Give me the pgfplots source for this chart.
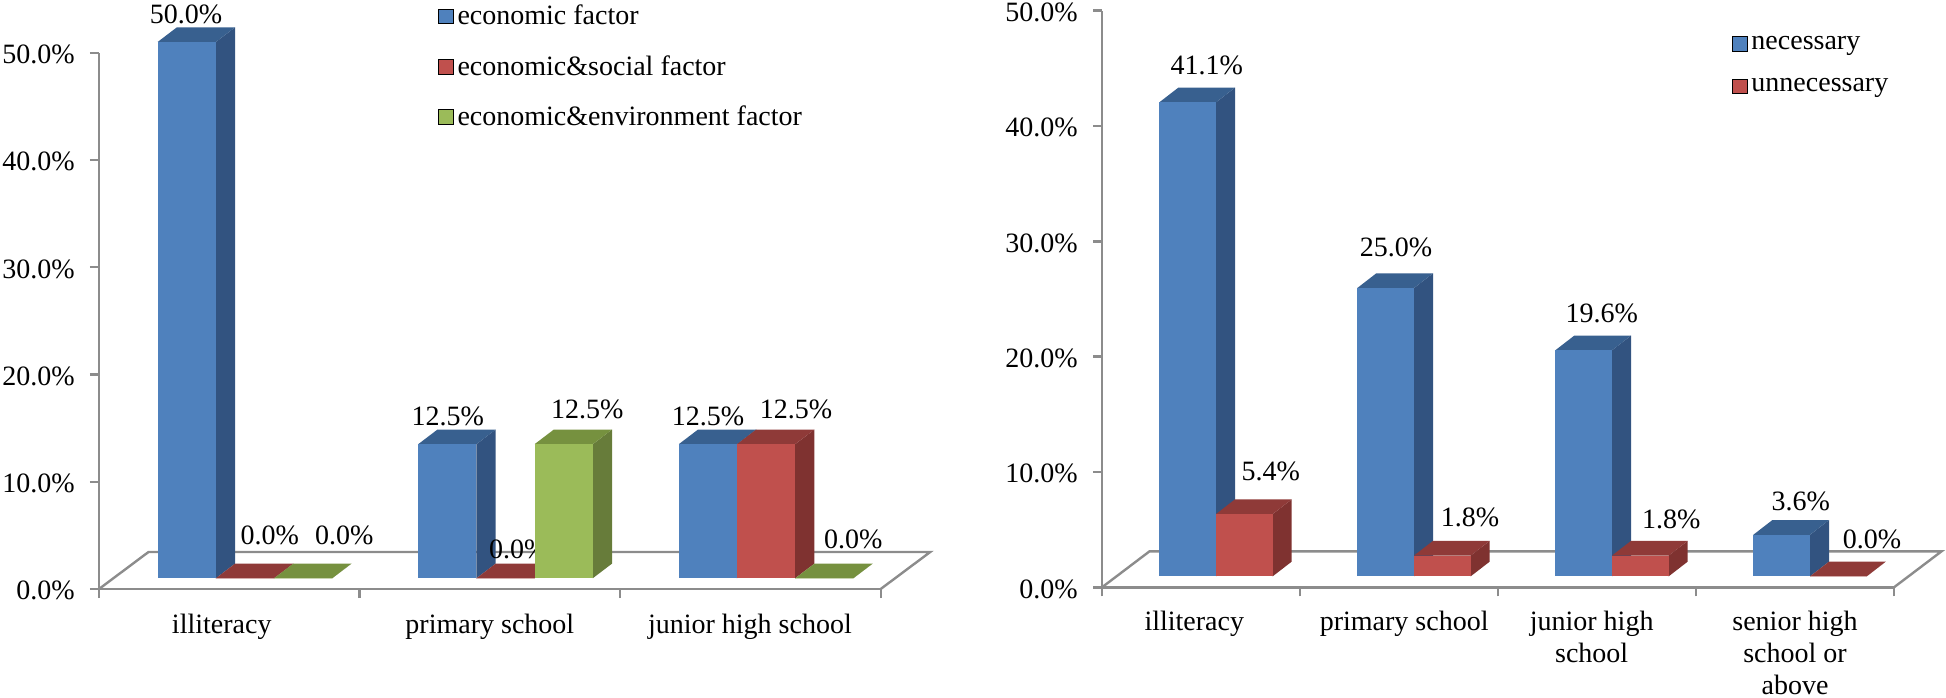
\documentclass[border=0pt]{standalone}
\usepackage{pgfplots}
\pgfplotsset{compat=1.18}
\usepackage{fontspec}
\setmainfont{Liberation Serif}

\definecolor{bluefront}{HTML}{4F81BD}
\definecolor{blueside}{HTML}{325380}
\definecolor{bluetop}{HTML}{38608F}
\definecolor{redfront}{HTML}{C0504D}
\definecolor{redside}{HTML}{7F3230}
\definecolor{redtop}{HTML}{8F3A38}
\definecolor{greenfront}{HTML}{9BBB59}
\definecolor{greenside}{HTML}{677C3A}
\definecolor{greentop}{HTML}{76913F}
\definecolor{axisgray}{HTML}{8C8C8C}

% one box: group, position in group, colour, value, label shift (reference pixels)
\newcommand{\threedbar}[6]{%
  \pgfmathsetmacro\xa{#1+\xstart+#2*\bw}%
  \pgfmathsetmacro\xb{\xa+\bw}%
  \pgfmathsetmacro\xc{\xb+\dX}%
  \pgfmathsetmacro\xd{\xa+\dX}%
  \pgfmathsetmacro\yb{\base+#4}%
  \pgfmathsetmacro\yc{\base+\dY}%
  \pgfmathsetmacro\yd{\yb+\dY}%
  \pgfmathsetmacro\xm{\xa+0.5*\bw}%
  \addplot[fill=#3side,draw=none,forget plot] coordinates {(\xb,\base) (\xc,\yc) (\xc,\yd) (\xb,\yb)} --cycle;
  \addplot[fill=#3top,draw=none,forget plot] coordinates {(\xa,\yb) (\xb,\yb) (\xc,\yd) (\xd,\yd)} --cycle;
  \addplot[fill=#3front,draw=none,forget plot] coordinates {(\xa,\base) (\xb,\base) (\xb,\yb) (\xa,\yb)} --cycle;
  \edef\temp{\noexpand\node[vallabel,xshift=#5*0.5pt,yshift=#6*0.5pt] at (axis cs:\xm,\yb) {#4\noexpand\%};}\temp
}

\pgfplotsset{
  threed/.style={
    scale only axis,
    clip=false,
    enlargelimits=false,
    axis lines=left,
    axis line style={-,axisgray,line width=1.2pt},
    tick style={axisgray,line width=1.2pt},
    tick align=outside,
    major tick length=4.5pt,
    ymin=0, ymax=50,
    ytick={0,10,...,50},
    yticklabels={0.0\%,10.0\%,20.0\%,30.0\%,40.0\%,50.0\%},
    tick label style={font=\fontsize{14}{16}\selectfont},
    y tick label style={inner sep=0pt,xshift=-7.5pt,yshift=-2.25pt},
    x tick label style={align=center,inner sep=0pt,yshift=-11pt},
    typeset ticklabels with strut,
    extra x tick style={major tick length=0pt},
    legend cell align=left,
    legend image code/.code={\fill[##1] (0pt,-3.65pt) rectangle (7.3pt,3.65pt);},
  },
}
\tikzset{vallabel/.style={font=\fontsize{14}{16}\selectfont,inner sep=0pt}}

\begin{document}
\begin{tikzpicture}
\path[use as bounding box] (0,0) rectangle (973pt,348.5pt);

% left chart
\begin{axis}[
    threed,
    at={(49.5pt,54pt)}, anchor=south west,
    width=390.85pt, height=268.15pt,
    xmin=0, xmax=3,
    xtick={0,1,2,3},
    xticklabels={,,,},
    extra x ticks={0.471,1.5,2.498},
    extra x tick labels={illiteracy,primary school,junior high school},
    legend style={at={(axis cs:1.3,54.85)},anchor=north west,draw=none,fill=none,inner sep=0pt,
      row sep=9.8pt,font=\fontsize{14}{16}\selectfont},
]
\addplot[axisgray,line width=1.2pt,forget plot] coordinates {(0,0) (0.19,3.45) (3.19,3.45) (3,0)};
\def\xstart{0.225}\def\bw{0.2233}\def\dX{0.0741}\def\dY{1.37}\def\base{1.0}
\threedbar{0}{0}{blue}{50.0}{-0.8}{28}
\threedbar{0}{1}{red}{0.0}{24.8}{42.5}
\threedbar{0}{2}{green}{0.0}{41.2}{42.5}
\threedbar{1}{0}{blue}{12.5}{0.5}{28}
\threedbar{1}{1}{red}{0.0}{12.7}{28.6}
\threedbar{1}{2}{green}{12.5}{23.7}{35.3}
\threedbar{2}{0}{blue}{12.5}{0.3}{27.6}
\threedbar{2}{1}{red}{12.5}{30}{35.3}
\threedbar{2}{2}{green}{0.0}{29}{39.3}
\addlegendimage{fill=bluefront}\addlegendentry{economic factor}
\addlegendimage{fill=redfront}\addlegendentry{economic\&social factor}
\addlegendimage{fill=greenfront}\addlegendentry{economic\&environment factor}
\end{axis}

% right chart
\begin{axis}[
    threed,
    at={(551pt,54.85pt)}, anchor=south west,
    width=396pt, height=288.3pt,
    xmin=0, xmax=4,
    xtick={0,1,2,3,4},
    xticklabels={,,,,},
    extra x ticks={0.466,1.526,2.473,3.5},
    extra x tick labels={illiteracy,primary school,junior high\\school,senior high\\school or\\above},
    x tick label style={yshift=1pt},
    legend style={at={(axis cs:3.18,48.2)},anchor=north west,draw=none,fill=none,inner sep=0pt,
      row sep=9.1pt,font=\fontsize{14}{16}\selectfont},
]
\addplot[axisgray,line width=1.2pt,forget plot] coordinates {(0,0) (0.24,3.12) (4.24,3.12) (4,0)};
\def\xstart{0.2894}\def\bw{0.2864}\def\dX{0.096}\def\dY{1.275}\def\base{0.954}
\threedbar{0}{0}{blue}{41.1}{19.2}{37.4}
\threedbar{0}{1}{red}{5.4}{26.3}{42.8}
\threedbar{1}{0}{blue}{25.0}{10.4}{41}
\threedbar{1}{1}{red}{1.8}{27.6}{38}
\threedbar{2}{0}{blue}{19.6}{18}{37}
\threedbar{2}{1}{red}{1.8}{30.8}{36}
\threedbar{3}{0}{blue}{3.6}{19.2}{33.6}
\threedbar{3}{1}{red}{0.0}{33.6}{37.3}
\addlegendimage{fill=bluefront}\addlegendentry{necessary}
\addlegendimage{fill=redfront}\addlegendentry{unnecessary}
\end{axis}
\end{tikzpicture}
\end{document}
